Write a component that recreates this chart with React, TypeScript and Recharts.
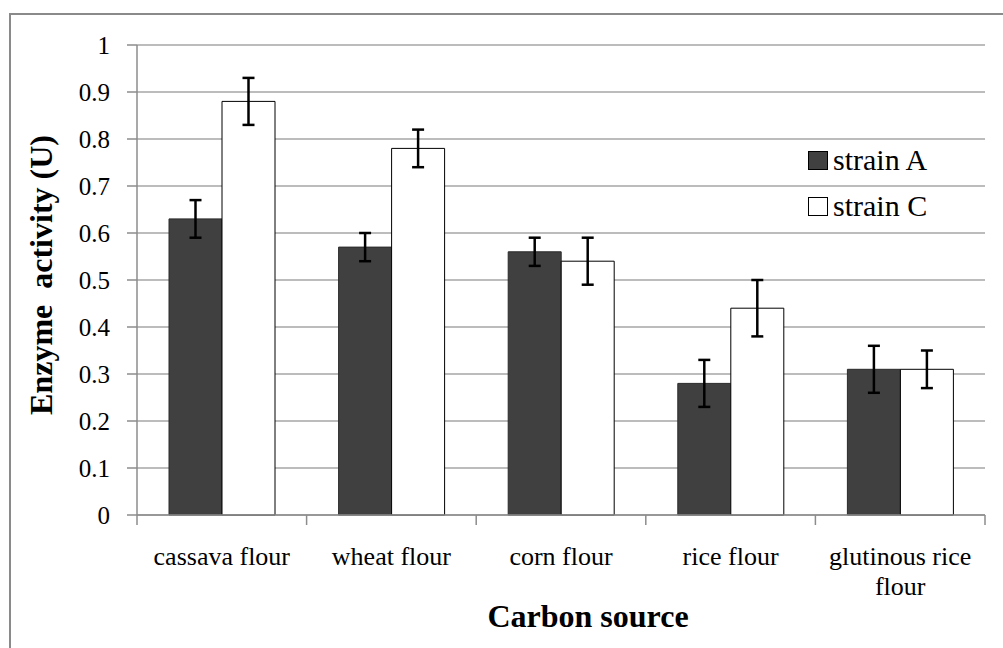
import React from 'react'
import {
  BarChart, Bar, XAxis, YAxis, CartesianGrid, ErrorBar, Legend, Label,
} from 'recharts'

// ── Data ──────────────────────────────────────────────────────────────────────

const categories = ['cassava flour', 'wheat flour', 'corn flour', 'rice flour', 'glutinous rice flour']
const strainA = [0.63, 0.57, 0.56, 0.28, 0.31]
const strainC = [0.88, 0.78, 0.54, 0.44, 0.31]
const errA = [0.04, 0.03, 0.03, 0.05, 0.05]
const errC = [0.05, 0.04, 0.05, 0.06, 0.04]
const yTicks = [0, 0.1, 0.2, 0.3, 0.4, 0.5, 0.6, 0.7, 0.8, 0.9, 1]

const data = categories.map((name, i) => ({
  name,
  a: strainA[i],
  c: strainC[i],
  errA: errA[i],
  errC: errC[i],
}))

const FONT = '"Liberation Serif", "Times New Roman", serif'
const AXIS = '#8c8c8c'
const GRID = '#a6a6a6'
const DARK = '#404040'

// ── Helpers ───────────────────────────────────────────────────────────────────

let ctx: CanvasRenderingContext2D | null = null
function measure(s: string, size: number) {
  if (!ctx) ctx = document.createElement('canvas').getContext('2d')
  if (!ctx) return s.length * size * 0.45
  ctx.font = `${size}px "Liberation Serif"`
  return ctx.measureText(s).width
}

function wrapWords(s: string, maxW: number, size: number) {
  const lines: string[] = []
  let cur = ''
  for (const w of s.split(' ')) {
    const next = cur ? `${cur} ${w}` : w
    if (cur && measure(next, size) > maxW) {
      lines.push(cur)
      cur = w
    } else cur = next
  }
  if (cur) lines.push(cur)
  return lines
}

// ── Category tick: label + boundary tick marks ────────────────────────────────

function CategoryTick(props: any) {
  const { x, y, payload, index } = props
  const half = payload?.offset ?? 84.8
  const last = index === categories.length - 1
  const lines = wrapWords(String(payload.value), 158, 26)
  return (
    <g>
      <line x1={x - half} y1={y} x2={x - half} y2={y + 10} stroke={AXIS} strokeWidth={1.5} />
      {last && <line x1={x + half} y1={y} x2={x + half} y2={y + 10} stroke={AXIS} strokeWidth={1.5} />}
      <text x={x} y={y + 50} textAnchor="middle" style={{ fontFamily: FONT, fontSize: 26, fill: '#000' }}>
        {lines.map((l, i) => (
          <tspan key={i} x={x} dy={i === 0 ? 0 : 30}>{l}</tspan>
        ))}
      </text>
    </g>
  )
}

function LegendBox({ payload }: any) {
  return (
    <div>
      {(payload ?? []).map((p: any) => (
        <div key={p.value} style={{ display: 'flex', alignItems: 'center', height: 46 }}>
          <span style={{
            display: 'inline-block', width: 18, height: 17, marginRight: 5,
            background: p.dataKey === 'a' ? DARK : '#fff', border: '1px solid #000',
          }} />
          <span style={{ fontFamily: FONT, fontSize: 30, color: '#000', lineHeight: '46px' }}>{p.value}</span>
        </div>
      ))}
    </div>
  )
}

// ── Component ─────────────────────────────────────────────────────────────────

export default function App() {
  return (
    <div style={{ position: 'absolute', left: 0, top: 0, width: 1003, height: 648, overflow: 'hidden', background: '#fff', fontFamily: FONT }}>
      <div style={{ position: 'absolute', left: 9, top: 13, width: 1200, height: 900, border: '2px solid #8a8a8a' }} />
      <BarChart
        width={1003}
        height={648}
        data={data}
        margin={{ top: 45, right: 18, bottom: 43, left: 0 }}
        barSize={53}
        barGap={0}
        style={{ position: 'absolute', left: 0, top: 0 }}
      >
        <CartesianGrid vertical={false} stroke={GRID} strokeWidth={1.3} />
        <XAxis
          dataKey="name"
          height={90}
          stroke={AXIS}
          strokeWidth={1.5}
          tickLine={false}
          tickSize={0}
          tickMargin={0}
          interval={0}
          tick={<CategoryTick />}
        >
          <Label
            content={() => (
              <text x={588} y={627} textAnchor="middle"
                style={{ fontFamily: FONT, fontSize: 32, fontWeight: 700, fill: '#000' }}>
                Carbon source
              </text>
            )}
          />
        </XAxis>
        <YAxis
          width={137}
          domain={[0, 1]}
          ticks={yTicks}
          interval={0}
          stroke={AXIS}
          strokeWidth={1.5}
          tickSize={10}
          tickMargin={17}
          tick={{ fontFamily: FONT, fontSize: 25, fill: '#000' }}
        >
          <Label
            content={() => (
              <text x={41} y={275} textAnchor="middle" dominantBaseline="central"
                transform="rotate(-90 41 275)"
                style={{ fontFamily: FONT, fontSize: 32, fontWeight: 700, fill: '#000', whiteSpace: 'pre' }}>
                {'Enzyme  activity (U)'}
              </text>
            )}
          />
        </YAxis>
        <Legend
          layout="horizontal"
          align="center"
          verticalAlign="middle"
          content={<LegendBox />}
          wrapperStyle={{ position: 'absolute', left: 808, top: 137, width: 'auto' }}
        />
        <Bar dataKey="a" name="strain A" fill={DARK} stroke="#2a2a2a" strokeWidth={1} isAnimationActive={false}>
          <ErrorBar dataKey="errA" width={6} strokeWidth={2.5} stroke="#000" direction="y" isAnimationActive={false} />
        </Bar>
        <Bar dataKey="c" name="strain C" fill="#fff" stroke="#000" strokeWidth={1} isAnimationActive={false}>
          <ErrorBar dataKey="errC" width={6} strokeWidth={2.5} stroke="#000" direction="y" isAnimationActive={false} />
        </Bar>
      </BarChart>
    </div>
  )
}
